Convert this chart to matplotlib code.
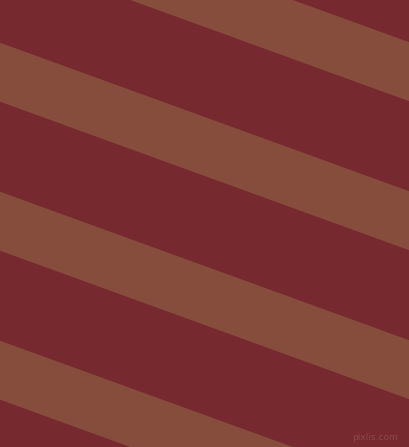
import matplotlib
matplotlib.use("Agg")
import matplotlib.pyplot as plt
import numpy as np

# stripe geometry (pixels)
stripe_starts = [-106.3, 42.7, 191.7, 340.7]   # top edge of each light band at x=0
stripe_width = 59.0
slope = 0.363

dark = "#76292F"
light = "#874D3C"

W, H = 409, 447


def main():
    fig = plt.figure(figsize=(W / 100, H / 100), dpi=100)
    ax = fig.add_axes([0, 0, 1, 1])
    ax.set_facecolor(dark)
    fig.patch.set_facecolor(dark)
    ax.set_xlim(0, W)
    ax.set_ylim(H, 0)
    ax.axis("off")

    x = np.array([0, W])
    for y0 in stripe_starts:
        ax.fill_between(x, y0 + slope * x, y0 + stripe_width + slope * x,
                        color=light, linewidth=0)

    ax.text(398, 437, "pixlis.com", color="#8a4a4e", fontsize=6.5,
            ha="right", va="center")

    fig.savefig("out.png", dpi=100, facecolor=dark)


if __name__ == '__main__':
    main()
